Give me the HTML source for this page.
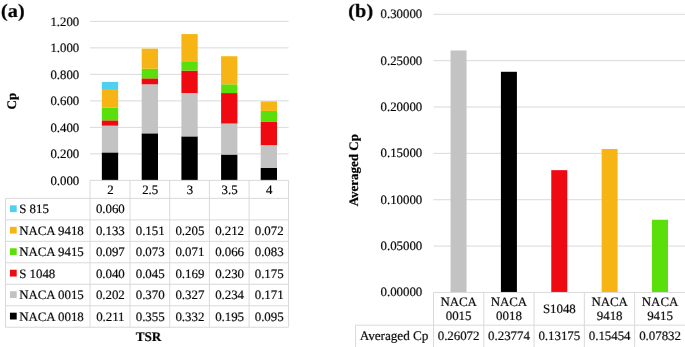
<!DOCTYPE html>
<html><head><meta charset="utf-8"><title>Chart</title>
<style>
html,body{margin:0;padding:0;background:#fff;}
body{width:685px;height:347px;overflow:hidden;font-family:"Liberation Serif",serif;}
svg{display:block;}
svg text{font-family:"Liberation Serif",serif;fill:#000;text-rendering:geometricPrecision;stroke:#000;stroke-width:0.18px;}
</style></head><body>
<svg width="685" height="347" viewBox="0 0 685 347">
<rect x="0" y="0" width="685" height="347" fill="#ffffff"/>
<line x1="90.00" y1="153.87" x2="288.60" y2="153.87" stroke="#d9d9d9" stroke-width="1"/>
<line x1="90.00" y1="127.37" x2="288.60" y2="127.37" stroke="#d9d9d9" stroke-width="1"/>
<line x1="90.00" y1="100.87" x2="288.60" y2="100.87" stroke="#d9d9d9" stroke-width="1"/>
<line x1="90.00" y1="74.37" x2="288.60" y2="74.37" stroke="#d9d9d9" stroke-width="1"/>
<line x1="90.00" y1="47.87" x2="288.60" y2="47.87" stroke="#d9d9d9" stroke-width="1"/>
<line x1="90.00" y1="21.37" x2="288.60" y2="21.37" stroke="#d9d9d9" stroke-width="1"/>
<rect x="101.85" y="152.41" width="16.30" height="27.97" fill="#000000"/>
<rect x="101.85" y="125.65" width="16.30" height="26.78" fill="#c3c3c3"/>
<rect x="101.85" y="120.35" width="16.30" height="5.31" fill="#ee0a10"/>
<rect x="101.85" y="107.50" width="16.30" height="12.86" fill="#5bdf0a"/>
<rect x="101.85" y="89.87" width="16.30" height="17.63" fill="#f7b515"/>
<rect x="101.85" y="81.92" width="16.30" height="7.96" fill="#4fd0f1"/>
<rect x="141.70" y="133.33" width="16.30" height="47.05" fill="#000000"/>
<rect x="141.70" y="84.31" width="16.30" height="49.03" fill="#c3c3c3"/>
<rect x="141.70" y="78.34" width="16.30" height="5.97" fill="#ee0a10"/>
<rect x="141.70" y="68.67" width="16.30" height="9.68" fill="#5bdf0a"/>
<rect x="141.70" y="48.66" width="16.30" height="20.02" fill="#f7b515"/>
<rect x="181.40" y="136.38" width="16.30" height="44.00" fill="#000000"/>
<rect x="181.40" y="93.05" width="16.30" height="43.34" fill="#c3c3c3"/>
<rect x="181.40" y="70.66" width="16.30" height="22.40" fill="#ee0a10"/>
<rect x="181.40" y="61.25" width="16.30" height="9.42" fill="#5bdf0a"/>
<rect x="181.40" y="34.09" width="16.30" height="27.17" fill="#f7b515"/>
<rect x="221.10" y="154.53" width="16.30" height="25.85" fill="#000000"/>
<rect x="221.10" y="123.53" width="16.30" height="31.02" fill="#c3c3c3"/>
<rect x="221.10" y="93.05" width="16.30" height="30.49" fill="#ee0a10"/>
<rect x="221.10" y="84.31" width="16.30" height="8.76" fill="#5bdf0a"/>
<rect x="221.10" y="56.22" width="16.30" height="28.10" fill="#f7b515"/>
<rect x="260.70" y="167.78" width="16.30" height="12.60" fill="#000000"/>
<rect x="260.70" y="145.12" width="16.30" height="22.67" fill="#c3c3c3"/>
<rect x="260.70" y="121.94" width="16.30" height="23.20" fill="#ee0a10"/>
<rect x="260.70" y="110.94" width="16.30" height="11.01" fill="#5bdf0a"/>
<rect x="260.70" y="101.40" width="16.30" height="9.55" fill="#f7b515"/>
<line x1="90.00" y1="180.37" x2="288.60" y2="180.37" stroke="#d9d9d9" stroke-width="1"/>
<line x1="5.50" y1="198.40" x2="288.60" y2="198.40" stroke="#d9d9d9" stroke-width="1"/>
<line x1="5.50" y1="219.87" x2="288.60" y2="219.87" stroke="#d9d9d9" stroke-width="1"/>
<line x1="5.50" y1="241.34" x2="288.60" y2="241.34" stroke="#d9d9d9" stroke-width="1"/>
<line x1="5.50" y1="262.81" x2="288.60" y2="262.81" stroke="#d9d9d9" stroke-width="1"/>
<line x1="5.50" y1="284.28" x2="288.60" y2="284.28" stroke="#d9d9d9" stroke-width="1"/>
<line x1="5.50" y1="305.75" x2="288.60" y2="305.75" stroke="#d9d9d9" stroke-width="1"/>
<line x1="5.50" y1="327.22" x2="288.60" y2="327.22" stroke="#d9d9d9" stroke-width="1"/>
<line x1="5.50" y1="198.40" x2="5.50" y2="327.22" stroke="#d9d9d9" stroke-width="1"/>
<line x1="90.00" y1="180.37" x2="90.00" y2="327.22" stroke="#d9d9d9" stroke-width="1"/>
<line x1="130.00" y1="180.37" x2="130.00" y2="327.22" stroke="#d9d9d9" stroke-width="1"/>
<line x1="169.70" y1="180.37" x2="169.70" y2="327.22" stroke="#d9d9d9" stroke-width="1"/>
<line x1="209.40" y1="180.37" x2="209.40" y2="327.22" stroke="#d9d9d9" stroke-width="1"/>
<line x1="249.10" y1="180.37" x2="249.10" y2="327.22" stroke="#d9d9d9" stroke-width="1"/>
<line x1="288.60" y1="180.37" x2="288.60" y2="327.22" stroke="#d9d9d9" stroke-width="1"/>
<rect x="9.95" y="205.33" width="6.75" height="6.80" fill="#4fd0f1"/>
<rect x="9.95" y="226.81" width="6.75" height="6.80" fill="#f7b515"/>
<rect x="9.95" y="248.27" width="6.75" height="6.80" fill="#5bdf0a"/>
<rect x="9.95" y="269.74" width="6.75" height="6.80" fill="#ee0a10"/>
<rect x="9.95" y="291.21" width="6.75" height="6.80" fill="#c3c3c3"/>
<rect x="9.95" y="312.69" width="6.75" height="6.80" fill="#000000"/>
<line x1="433.50" y1="246.09" x2="685.90" y2="246.09" stroke="#d9d9d9" stroke-width="1"/>
<line x1="433.50" y1="199.73" x2="685.90" y2="199.73" stroke="#d9d9d9" stroke-width="1"/>
<line x1="433.50" y1="153.37" x2="685.90" y2="153.37" stroke="#d9d9d9" stroke-width="1"/>
<line x1="433.50" y1="107.01" x2="685.90" y2="107.01" stroke="#d9d9d9" stroke-width="1"/>
<line x1="433.50" y1="60.65" x2="685.90" y2="60.65" stroke="#d9d9d9" stroke-width="1"/>
<line x1="433.50" y1="14.29" x2="685.90" y2="14.29" stroke="#d9d9d9" stroke-width="1"/>
<rect x="450.55" y="50.45" width="16.00" height="242.00" fill="#c3c3c3"/>
<rect x="500.91" y="71.78" width="16.00" height="220.67" fill="#000000"/>
<rect x="551.27" y="170.16" width="16.00" height="122.29" fill="#ee0a10"/>
<rect x="601.63" y="149.01" width="16.00" height="143.44" fill="#f7b515"/>
<rect x="651.99" y="219.75" width="16.00" height="72.70" fill="#5bdf0a"/>
<line x1="433.50" y1="292.45" x2="685.90" y2="292.45" stroke="#d9d9d9" stroke-width="1"/>
<line x1="355.60" y1="325.20" x2="685.90" y2="325.20" stroke="#d9d9d9" stroke-width="1"/>
<line x1="355.60" y1="325.20" x2="355.60" y2="348.00" stroke="#d9d9d9" stroke-width="1"/>
<line x1="433.50" y1="292.45" x2="433.50" y2="348.00" stroke="#d9d9d9" stroke-width="1"/>
<line x1="483.78" y1="292.45" x2="483.78" y2="348.00" stroke="#d9d9d9" stroke-width="1"/>
<line x1="534.06" y1="292.45" x2="534.06" y2="348.00" stroke="#d9d9d9" stroke-width="1"/>
<line x1="584.34" y1="292.45" x2="584.34" y2="348.00" stroke="#d9d9d9" stroke-width="1"/>
<line x1="634.62" y1="292.45" x2="634.62" y2="348.00" stroke="#d9d9d9" stroke-width="1"/>
<g style="mix-blend-mode:multiply" transform="matrix(1 0 0.0005 1 -0.09 0)">
<text x="79.30" y="184.67" text-anchor="end" font-size="12.85">0.000</text>
<text x="79.30" y="158.17" text-anchor="end" font-size="12.85">0.200</text>
<text x="79.30" y="131.67" text-anchor="end" font-size="12.85">0.400</text>
<text x="79.30" y="105.17" text-anchor="end" font-size="12.85">0.600</text>
<text x="79.30" y="78.67" text-anchor="end" font-size="12.85">0.800</text>
<text x="79.30" y="52.17" text-anchor="end" font-size="12.85">1.000</text>
<text x="79.30" y="25.67" text-anchor="end" font-size="12.85">1.200</text>
<text x="110.35" y="193.69" text-anchor="middle" font-size="12.85">2</text>
<text x="150.20" y="193.69" text-anchor="middle" font-size="12.85">2.5</text>
<text x="189.90" y="193.69" text-anchor="middle" font-size="12.85">3</text>
<text x="229.60" y="193.69" text-anchor="middle" font-size="12.85">3.5</text>
<text x="269.20" y="193.69" text-anchor="middle" font-size="12.85">4</text>
<text x="19.20" y="213.44" text-anchor="start" font-size="12.85">S 815</text>
<text x="110.35" y="213.44" text-anchor="middle" font-size="12.85">0.060</text>
<text x="19.20" y="234.91" text-anchor="start" font-size="12.85">NACA 9418</text>
<text x="110.35" y="234.91" text-anchor="middle" font-size="12.85">0.133</text>
<text x="150.20" y="234.91" text-anchor="middle" font-size="12.85">0.151</text>
<text x="189.90" y="234.91" text-anchor="middle" font-size="12.85">0.205</text>
<text x="229.60" y="234.91" text-anchor="middle" font-size="12.85">0.212</text>
<text x="269.20" y="234.91" text-anchor="middle" font-size="12.85">0.072</text>
<text x="19.20" y="256.38" text-anchor="start" font-size="12.85">NACA 9415</text>
<text x="110.35" y="256.38" text-anchor="middle" font-size="12.85">0.097</text>
<text x="150.20" y="256.38" text-anchor="middle" font-size="12.85">0.073</text>
<text x="189.90" y="256.38" text-anchor="middle" font-size="12.85">0.071</text>
<text x="229.60" y="256.38" text-anchor="middle" font-size="12.85">0.066</text>
<text x="269.20" y="256.38" text-anchor="middle" font-size="12.85">0.083</text>
<text x="19.20" y="277.84" text-anchor="start" font-size="12.85">S 1048</text>
<text x="110.35" y="277.84" text-anchor="middle" font-size="12.85">0.040</text>
<text x="150.20" y="277.84" text-anchor="middle" font-size="12.85">0.045</text>
<text x="189.90" y="277.84" text-anchor="middle" font-size="12.85">0.169</text>
<text x="229.60" y="277.84" text-anchor="middle" font-size="12.85">0.230</text>
<text x="269.20" y="277.84" text-anchor="middle" font-size="12.85">0.175</text>
<text x="19.20" y="299.31" text-anchor="start" font-size="12.85">NACA 0015</text>
<text x="110.35" y="299.31" text-anchor="middle" font-size="12.85">0.202</text>
<text x="150.20" y="299.31" text-anchor="middle" font-size="12.85">0.370</text>
<text x="189.90" y="299.31" text-anchor="middle" font-size="12.85">0.327</text>
<text x="229.60" y="299.31" text-anchor="middle" font-size="12.85">0.234</text>
<text x="269.20" y="299.31" text-anchor="middle" font-size="12.85">0.171</text>
<text x="19.20" y="320.79" text-anchor="start" font-size="12.85">NACA 0018</text>
<text x="110.35" y="320.79" text-anchor="middle" font-size="12.85">0.211</text>
<text x="150.20" y="320.79" text-anchor="middle" font-size="12.85">0.355</text>
<text x="189.90" y="320.79" text-anchor="middle" font-size="12.85">0.332</text>
<text x="229.60" y="320.79" text-anchor="middle" font-size="12.85">0.195</text>
<text x="269.20" y="320.79" text-anchor="middle" font-size="12.85">0.095</text>
<text x="148.40" y="341.40" text-anchor="middle" font-size="13.1" font-weight="bold">TSR</text>
<text transform="translate(16.2,101) rotate(-90)" text-anchor="middle" font-size="13.1" font-weight="bold">Cp</text>
<text transform="translate(0.9,17.1) scale(1.08,1)" font-size="18.9" font-weight="bold">(a)</text>
<text x="422.30" y="296.45" text-anchor="end" font-size="12.85">0.00000</text>
<text x="422.30" y="250.09" text-anchor="end" font-size="12.85">0.05000</text>
<text x="422.30" y="203.73" text-anchor="end" font-size="12.85">0.10000</text>
<text x="422.30" y="157.37" text-anchor="end" font-size="12.85">0.15000</text>
<text x="422.30" y="111.01" text-anchor="end" font-size="12.85">0.20000</text>
<text x="422.30" y="64.65" text-anchor="end" font-size="12.85">0.25000</text>
<text x="422.30" y="18.29" text-anchor="end" font-size="12.85">0.30000</text>
<text x="458.60" y="305.60" text-anchor="middle" font-size="12.85">NACA</text>
<text x="458.60" y="320.20" text-anchor="middle" font-size="12.85">0015</text>
<text x="458.60" y="339.90" text-anchor="middle" font-size="12.85">0.26072</text>
<text x="508.96" y="305.60" text-anchor="middle" font-size="12.85">NACA</text>
<text x="508.96" y="320.20" text-anchor="middle" font-size="12.85">0018</text>
<text x="508.96" y="339.90" text-anchor="middle" font-size="12.85">0.23774</text>
<text x="559.32" y="313.12" text-anchor="middle" font-size="12.85">S1048</text>
<text x="559.32" y="339.90" text-anchor="middle" font-size="12.85">0.13175</text>
<text x="609.68" y="305.60" text-anchor="middle" font-size="12.85">NACA</text>
<text x="609.68" y="320.20" text-anchor="middle" font-size="12.85">9418</text>
<text x="609.68" y="339.90" text-anchor="middle" font-size="12.85">0.15454</text>
<text x="660.04" y="305.60" text-anchor="middle" font-size="12.85">NACA</text>
<text x="660.04" y="320.20" text-anchor="middle" font-size="12.85">9415</text>
<text x="660.04" y="339.90" text-anchor="middle" font-size="12.85">0.07832</text>
<text x="394.00" y="339.70" text-anchor="middle" font-size="13.15">Averaged Cp</text>
<text transform="translate(357.7,170.2) rotate(-90)" text-anchor="middle" font-size="13.0" font-weight="bold">Averaged Cp</text>
<text transform="translate(348.3,17.1) scale(1.08,1)" font-size="18.9" font-weight="bold">(b)</text>
</g>
</svg>
</body></html>
